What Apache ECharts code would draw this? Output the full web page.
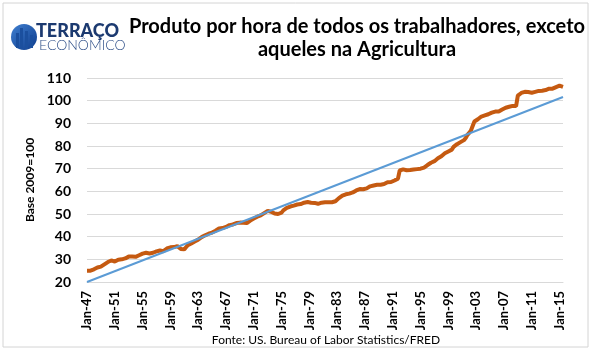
<!DOCTYPE html>
<html>
<head>
<meta charset="utf-8">
<script src="https://cdn.jsdelivr.net/npm/echarts@6/dist/echarts.min.js"></script>
<style>
html,body{margin:0;padding:0;background:#fff;}
#chart{width:594px;height:354px;}
</style>
</head>
<body>
<div id="chart"></div>
<script>
// ---- data (quarterly, 1947Q1 .. 2015Q3), index 2009=100 ----
const startYear = 1947;
const productivity = [
  25.0, 25.2, 25.0, 25.3,  // 1947
  25.6, 26.0, 26.4, 26.6,  // 1948
  26.8, 27.2, 27.8, 28.3,  // 1949
  28.8, 29.3, 29.5, 29.2,  // 1950
  29.0, 29.4, 29.8, 29.9,  // 1951
  30.0, 30.1, 30.4, 30.9,  // 1952
  31.2, 31.3, 31.2, 31.0,  // 1953
  31.1, 31.4, 31.8, 32.2,  // 1954
  32.5, 32.8, 32.9, 32.7,  // 1955
  32.6, 32.8, 32.9, 33.2,  // 1956
  33.5, 33.6, 33.9, 33.7,  // 1957
  33.6, 34.1, 34.8, 35.2,  // 1958
  35.3, 35.6, 35.4, 35.6,  // 1959
  35.8, 35.2, 34.6, 34.3,  // 1960
  34.4, 35.3, 36.2, 36.8,  // 1961
  37.0, 37.4, 37.9, 38.2,  // 1962
  38.7, 39.3, 39.8, 40.2,  // 1963
  40.6, 41.0, 41.3, 41.4,  // 1964
  41.8, 42.2, 42.6, 43.2,  // 1965
  43.6, 43.7, 43.8, 44.0,  // 1966
  44.3, 44.8, 45.1, 45.0,  // 1967
  45.4, 45.9, 46.0, 46.1,  // 1968
  46.2, 46.0, 46.1, 45.9,  // 1969
  46.0, 46.4, 47.1, 47.2,  // 1970
  48.0, 48.4, 48.8, 49.0,  // 1971
  49.4, 50.0, 50.4, 50.9,  // 1972
  51.4, 51.2, 51.0, 50.6,  // 1973
  50.2, 50.1, 50.0, 50.0,  // 1974
  50.6, 51.6, 52.4, 52.7,  // 1975
  53.0, 53.3, 53.4, 53.7,  // 1976
  53.9, 54.2, 54.6, 54.4,  // 1977
  54.6, 55.0, 55.2, 55.3,  // 1978
  55.2, 55.0, 54.8, 54.9,  // 1979
  54.9, 54.5, 54.7, 55.0,  // 1980
  55.4, 55.2, 55.5, 55.2,  // 1981
  54.9, 55.2, 55.4, 55.6,  // 1982
  56.3, 57.0, 57.8, 58.1,  // 1983
  58.4, 58.7, 58.8, 59.0,  // 1984
  59.3, 59.5, 60.0, 60.4,  // 1985
  60.9, 61.0, 60.8, 60.9,  // 1986
  61.0, 61.3, 61.7, 62.2,  // 1987
  62.3, 62.6, 62.7, 62.9,  // 1988
  62.8, 62.9, 63.1, 63.2,  // 1989
  63.6, 64.0, 64.0, 64.1,  // 1990
  64.3, 64.8, 65.3, 65.6,  // 1991
  69.2, 69.5, 69.7, 69.9,  // 1992
  69.3, 69.2, 69.4, 69.8,  // 1993
  69.6, 69.5, 69.8, 70.0,  // 1994
  70.0, 70.2, 70.5, 70.8,  // 1995
  71.6, 72.3, 72.6, 73.1,  // 1996
  73.3, 73.8, 74.6, 75.0,  // 1997
  75.5, 76.1, 76.8, 77.3,  // 1998
  77.6, 77.8, 78.4, 79.6,  // 1999
  79.5, 80.8, 81.0, 81.7,  // 2000
  81.8, 82.6, 83.5, 84.9,  // 2001
  85.8, 86.8, 87.3, 90.8,  // 2002
  91.4, 91.8, 92.6, 93.0,  // 2003
  93.2, 93.5, 93.8, 94.0,  // 2004
  94.6, 94.7, 95.2, 95.2,  // 2005
  95.3, 95.2, 95.4, 96.1,  // 2006
  96.6, 96.9, 97.5, 97.3,  // 2007
  97.3, 97.7, 97.4, 97.6,  // 2008
  102.2, 103.0, 103.4, 103.6, // 2009
  103.9, 104.0, 103.8, 103.6, // 2010
  103.5, 103.7, 103.9, 104.2, // 2011
  104.3, 104.6, 104.4, 104.3, // 2012
  104.7, 104.9, 105.3, 105.8, // 2013
  105.3, 105.6, 106.0, 106.1, // 2014
  106.6, 106.8, 106.1         // 2015
];
// linear trend line end points
const trendStart = 20.0;
const trendEnd = 101.6;
const xTickLabels = ['Jan-47','Jan-51','Jan-55','Jan-59','Jan-63','Jan-67','Jan-71','Jan-75','Jan-79','Jan-83','Jan-87','Jan-91','Jan-95','Jan-99','Jan-03','Jan-07','Jan-11','Jan-15'];
const yTicks = [20, 110, 10]; // min, max, step

const titleLines = ['Produto por hora de todos os trabalhadores, exceto', 'aqueles na Agricultura'];
const yAxisName = 'Base 2009=100';
const sourceText = 'Fonte: US. Bureau of Labor Statistics/FRED';

// ---- build categories ----
const months = ['Jan','Apr','Jul','Oct'];
const categories = productivity.map((_, i) => {
  const y = startYear + Math.floor(i / 4);
  return months[i % 4] + '-' + String(y).slice(-2);
});
const trendData = productivity.map((_, i) =>
  i === 0 ? trendStart : (i === productivity.length - 1 ? trendEnd : null));

const FONT = 'Lato, "Liberation Sans", sans-serif';
const chart = echarts.init(document.getElementById('chart'), null, {renderer: 'canvas'});
chart.setOption({
  backgroundColor: '#ffffff',
  animation: false,
  textStyle: {fontFamily: FONT},
  grid: {left: 87, right: 31, top: 78, bottom: 72, containLabel: false},
  xAxis: {
    type: 'category',
    data: categories,
    boundaryGap: false,
    axisLine: {show: true, lineStyle: {color: '#d9d9d9', width: 1}},
    axisTick: {show: false},
    splitLine: {show: false},
    axisLabel: {
      interval: (idx) => idx % 16 === 0,
      rotate: 90,
      margin: 9,
      color: '#000',
      fontWeight: 'bold',
      fontSize: 13,
      fontFamily: FONT,
      formatter: (v, idx) => xTickLabels[idx / 16] || ''
    }
  },
  yAxis: {
    type: 'value',
    min: yTicks[0], max: yTicks[1], interval: yTicks[2],
    name: yAxisName,
    nameLocation: 'middle',
    nameRotate: 90,
    nameGap: 48,
    nameTextStyle: {color: '#000', fontSize: 12, fontWeight: 'bold', fontFamily: FONT},
    axisLine: {show: false},
    axisTick: {show: false},
    splitLine: {lineStyle: {color: '#d9d9d9', width: 1}},
    axisLabel: {color: '#000', fontWeight: 'bold', fontSize: 14, margin: 16, fontFamily: FONT}
  },
  series: [
    {
      type: 'line',
      data: productivity,
      symbol: 'none',
      lineStyle: {color: '#c55a11', width: 4},
      z: 3
    },
    {
      type: 'line',
      data: trendData,
      connectNulls: true,
      symbol: 'none',
      lineStyle: {color: '#5b9bd5', width: 2},
      z: 4
    }
  ],
  graphic: [
    {type: 'rect', shape: {x: 3, y: 3, width: 585, height: 344}, style: {fill: 'none', stroke: '#d4d4d4', lineWidth: 1}, silent: true},
    {type: 'circle', shape: {cx: 24, cy: 37, r: 13},
      style: {fill: new echarts.graphic.LinearGradient(0, 0, 1, 1, [{offset: 0, color: '#3f7fd0'}, {offset: 1, color: '#0f3c8c'}])}},
    {type: 'rect', shape: {x: 16, y: 33, width: 3, height: 15}, style: {fill: '#1b4f9e'}},
    {type: 'rect', shape: {x: 20, y: 28, width: 3, height: 21}, style: {fill: '#1b4f9e'}},
    {type: 'rect', shape: {x: 25, y: 31, width: 3, height: 18}, style: {fill: '#1b4f9e'}},
    {type: 'rect', shape: {x: 30, y: 35, width: 3, height: 13}, style: {fill: '#1b4f9e'}},
    {type: 'text', x: 36, y: 31, style: {text: 'TERRAÇO', fill: '#1c3a70', font: '900 18px ' + FONT, textVerticalAlign: 'middle'}},
    {type: 'text', x: 39, y: 45, style: {text: 'ECONÔMICO', fill: '#2c4d87', font: '300 14px ' + FONT, textVerticalAlign: 'middle'}},
    {type: 'text', x: 357, y: 27, style: {text: titleLines[0], fill: '#000', font: 'bold 20px ' + FONT, textAlign: 'center', textVerticalAlign: 'middle'}},
    {type: 'text', x: 357, y: 50, style: {text: titleLines[1], fill: '#000', font: 'bold 20px ' + FONT, textAlign: 'center', textVerticalAlign: 'middle'}},
    {type: 'text', x: 326, y: 340, style: {text: sourceText, fill: '#000', font: '12px ' + FONT, textAlign: 'center', textVerticalAlign: 'middle'}}
  ]
});
</script>
</body>
</html>
